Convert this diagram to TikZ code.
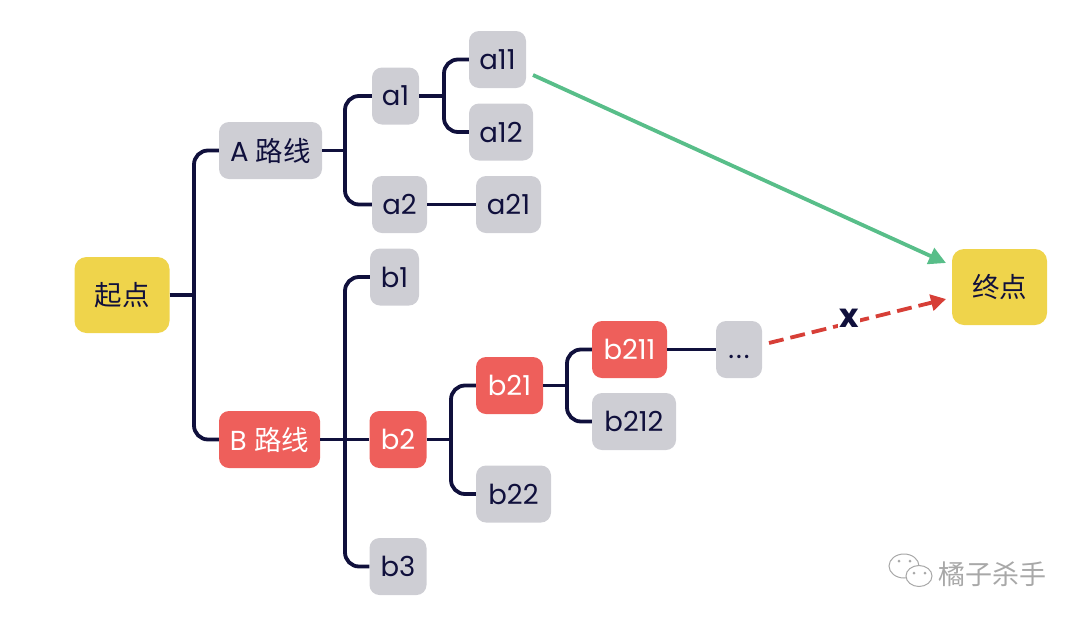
\documentclass[tikz,border=0pt]{standalone}
\usepackage{fontspec}
\setmainfont{Poppins}
\newfontfamily\cjk{Noto Sans CJK SC}
\usetikzlibrary{arrows.meta}
\usetikzlibrary{positioning}
\usetikzlibrary{calc}
\definecolor{navy}{HTML}{10103C}
\definecolor{sand}{HTML}{EFD44B}
\definecolor{mist}{HTML}{CECED4}
\definecolor{coral}{HTML}{EE5F5B}
\definecolor{mint}{HTML}{58BE89}
\definecolor{brick}{HTML}{D73F37}
\definecolor{stamp}{HTML}{A8A8A8}

\begin{document}
\begin{tikzpicture}[x=1pt, y=-1pt,
    every node/.style={inner sep=0pt, font=\fontsize{27.5}{30}\selectfont, text=navy},
    box/.style={rounded corners=10pt, minimum height=57pt, fill=mist},
    hot/.style={box, fill=coral, text=white},
    goal/.style={rounded corners=12pt, minimum width=95pt, minimum height=76pt, fill=sand},
    branch/.style={draw=navy, line width=3.8pt, rounded corners=14pt}]
        \useasboundingbox (0,0) rectangle (1080,622);

        % Start and end
        \node[goal] (start) at (122,295) {\cjk 起点};
        \node[goal] (end) at (999.5,287) {\cjk 终点};

        % Route A
        \node[box, minimum width=103pt] (A) at (270.5,150.5) {A {\cjk 路线}};
        \node[box, minimum width=47pt] (a1) at (395.5,96) {a1};
        \node[box, minimum width=57pt] (a11) at (497.5,59.5) {a11};
        \node[box, minimum width=64pt] (a12) at (501,132) {a12};
        \node[box, minimum width=55pt] (a2) at (399.5,204.5) {a2};
        \node[box, minimum width=65pt] (a21) at (508.5,204.5) {a21};

        % Route B
        \node[hot, minimum width=101pt] (B) at (269.5,439.5) {B {\cjk 路线}};
        \node[box, minimum width=49pt] (b1) at (394.5,277) {b1};
        \node[hot, minimum width=57pt] (b2) at (398,439.5) {b2};
        \node[box, minimum width=57pt] (b3) at (398,566.5) {b3};
        \node[hot, minimum width=67pt] (b21) at (509.5,385.5) {b21};
        \node[box, minimum width=75pt] (b22) at (513.5,494) {b22};
        \node[hot, minimum width=75pt] (b211) at (629.5,349.5) {b211};
        \node[box, minimum width=84pt] (b212) at (634,421.5) {b212};
        \node[box, minimum width=46pt] (more) at (739,349.5) {\smash{\raisebox{-9pt}{.\kern2pt.\kern2pt.}}};

        % Points where the branches fork
        \coordinate (forkS) at (194,295);
        \coordinate (forkA) at (345,150.5);
        \coordinate (forkB) at (345,439.5);
        \coordinate (forkaa) at (444,96);
        \coordinate (forkbb) at (451,439.5);
        \coordinate (forkbc) at (567,385.5);

        % Draw each fork with its stem
        \foreach \stem/\fork/\up/\down in {start/forkS/A/B, A/forkA/a1/a2, a1/forkaa/a11/a12, b2/forkbb/b21/b22, b21/forkbc/b211/b212}
        {
          \draw[branch] (\up.west) -| (\fork) |- (\down.west);
          \draw[branch] (\stem.east) -- (\fork);
        }
        \draw[branch] (b1.west) -| (forkB) |- (b3.west);
        \draw[branch] (B.east) -- (b2.west);
        \draw[branch] (a2.east) -- (a21.west);
        \draw[branch] (b211.east) -- (more.west);

        % Arrows to the end
        \coordinate (greenfrom) at (533,75);
        \coordinate (greento) at (946,263);
        \coordinate (redfrom) at (769,343);
        \coordinate (redto) at (946,299);
        \draw[mint, line width=3.8pt, -{Triangle[length=17pt, width=17pt]}] (greenfrom) -- (greento);
        \draw[brick, line width=3.8pt, dash pattern=on 15pt off 7pt, -{Triangle[length=15pt, width=16pt]}] (redfrom) -- (redto);
        \node[fill=white, inner xsep=1pt, font=\fontsize{33}{34}\selectfont\bfseries] (cross) at (849,318.5) {x};

        % Mark in the corner
        \draw[stamp, line width=1pt, fill=white] (904,566) ellipse (15 and 12);
        \draw[stamp, line width=1pt, fill=white] (919,576) ellipse (13 and 10.5);
        \foreach \i/\j in {899/561, 910/561, 914/573, 925/573}
        {
          \fill[stamp] (\i,\j) circle (1.5);
        }
        \node[text=stamp, font=\fontsize{27}{30}\selectfont\cjk] (stampname) at (992,574) {橘子杀手};
      \end{tikzpicture}
\end{document}
